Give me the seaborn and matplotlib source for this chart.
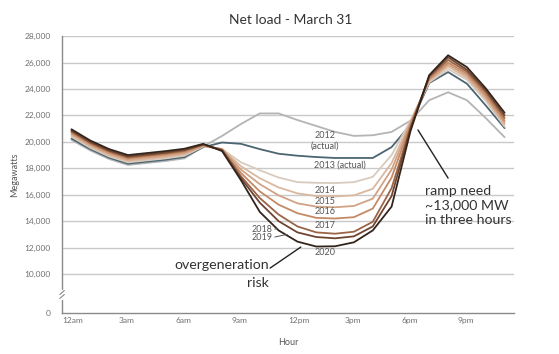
import matplotlib
matplotlib.use("Agg")
import matplotlib.pyplot as plt
import seaborn as sns
import pandas as pd
import numpy as np

# hour-of-day midpoints
hours = [0.5, 1.5, 2.5, 3.5, 4.5, 5.5, 6.5, 7.5, 8.5, 9.5, 10.5, 11.5,
         12.5, 13.5, 14.5, 15.5, 16.5, 17.5, 18.5, 19.5, 20.5, 21.5, 22.5, 23.5]

net_2012 = [20150, 19350, 18700, 18250, 18400, 18550, 18750, 19650, 20450, 21350, 22150, 22150,
            21650, 21200, 20750, 20450, 20500, 20750, 21600, 23150, 23750, 23150, 21800, 20350]
net_2013 = [20250, 19450, 18800, 18350, 18500, 18650, 18850, 19600, 19950, 19850, 19450, 19100,
            18950, 18850, 18780, 18780, 18780, 19600, 21300, 24450, 25280, 24400, 22750, 21040]
net_2014 = [20400, 19550, 18900, 18450, 18600, 18750, 18950, 19650, 19450, 18450, 17850, 17300,
            16950, 16900, 16880, 16950, 17350, 19000, 21600, 24500, 25500, 24700, 23100, 21150]
net_2015 = [20500, 19650, 19000, 18550, 18700, 18850, 19050, 19700, 19450, 18150, 17250, 16550,
            16100, 15900, 15870, 15950, 16450, 18400, 21500, 24600, 25700, 24850, 23250, 21300]
net_2016 = [20600, 19750, 19100, 18650, 18800, 18950, 19150, 19700, 19450, 17900, 16800, 15950,
            15350, 15100, 15050, 15150, 15700, 17900, 21400, 24700, 25850, 25000, 23400, 21450]
net_2017 = [20700, 19850, 19200, 18750, 18900, 19050, 19250, 19750, 19400, 17650, 16250, 15250,
            14600, 14250, 14200, 14300, 14950, 17300, 21300, 24800, 26000, 25150, 23550, 21600]
net_2018 = [20780, 19920, 19280, 18830, 18980, 19130, 19330, 19780, 19400, 17400, 15750, 14500,
            13600, 13150, 13050, 13200, 13950, 16500, 21100, 24900, 26200, 25300, 23750, 21800]
net_2019 = [20850, 20000, 19350, 18900, 19050, 19200, 19400, 19800, 19350, 17250, 15400, 14000,
            13150, 12800, 12700, 12850, 13600, 15900, 21000, 25000, 26400, 25450, 23900, 22000]
net_2020 = [20950, 20100, 19450, 19000, 19150, 19300, 19480, 19850, 19300, 17100, 14700, 13300,
            12450, 12080, 12100, 12400, 13300, 15100, 20800, 25050, 26550, 25650, 24050, 22200]

years = ["2012", "2013", "2014", "2015", "2016", "2017", "2018", "2019", "2020"]
series = [net_2012, net_2013, net_2014, net_2015, net_2016, net_2017, net_2018, net_2019, net_2020]

colors = {"2012": "#b4b4b4", "2013": "#4c6572", "2014": "#d8cbbd", "2015": "#d9b8a0",
          "2016": "#d2a284", "2017": "#c48a66", "2018": "#9c6446", "2019": "#6e4530",
          "2020": "#33241c"}

x_tick_hours = [0, 3, 6, 9, 12, 15, 18, 21]
x_tick_labels = ["12am", "3am", "6am", "9am", "12pm", "3pm", "6pm", "9pm"]
y_grid = [10000, 12000, 14000, 16000, 18000, 20000, 22000, 24000, 26000, 28000]

# the "0" sits below a broken axis; place it at this fake data level
Y_ZERO = 7050

rows = []
for yr, vals in zip(years, series):
    for h, v in zip(hours, vals):
        rows.append({"hour": h, "mw": v, "year": yr})
df = pd.DataFrame(rows)

sns.set_style("white")
plt.rcParams["font.family"] = ["Lato", "DejaVu Sans"]

fig = plt.figure(figsize=(5.59, 3.54), dpi=100)
ax = fig.add_axes([0.111, 0.1158, 0.8085, 0.7822])

for g in y_grid:
    ax.axhline(g, color="#c9c9c9", lw=1.0, zorder=0)

sns.lineplot(data=df, x="hour", y="mw", hue="year", hue_order=years,
             palette=colors, legend=False, lw=1.3, ax=ax)

ax.set_xlim(0, 24)
ax.set_ylim(Y_ZERO, 28000)
ax.set_xticks(x_tick_hours)
ax.set_xticklabels(x_tick_labels, ha="left")
ax.set_xticks(range(25), minor=True)
ax.set_yticks([Y_ZERO] + y_grid)
ax.set_yticklabels(["0"] + [f"{v:,}" for v in y_grid])
ax.tick_params(axis="x", which="both", direction="inout", length=3, color="#8a8a8a",
               labelsize=6, labelcolor="#707070", pad=1.5)
ax.tick_params(axis="y", length=0, labelsize=6, labelcolor="#707070", pad=8)

for side in ["top", "right"]:
    ax.spines[side].set_visible(False)
for side in ["left", "bottom"]:
    ax.spines[side].set_color("#8a8a8a")
    ax.spines[side].set_linewidth(1.0)

# axis break mark
ax.plot([0, 0], [8200, 8700], color="white", lw=2.5, clip_on=False, zorder=5)
ax.plot([-0.12, 0.12], [8150, 8450], color="#8a8a8a", lw=0.8, clip_on=False, zorder=6)
ax.plot([-0.12, 0.12], [8450, 8750], color="#8a8a8a", lw=0.8, clip_on=False, zorder=6)

ax.set_xlabel("Hour", fontsize=6.5, color="#555555", labelpad=10)
ax.set_ylabel("Megawatts", fontsize=6.5, color="#555555", labelpad=4)
fig.suptitle("Net load - March 31", x=0.52, y=0.96, fontsize=10, color="#333333")

lab = dict(fontsize=6.5, color="#555555", ha="center", va="center")
ax.text(13.95, 20500, "2012", **lab)
ax.text(13.95, 19700, "(actual)", **lab)
ax.text(14.75, 18250, "2013 (actual)", **lab)
ax.text(13.95, 16350, "2014", **lab)
ax.text(13.95, 15450, "2015", **lab)
ax.text(13.95, 14700, "2016", **lab)
ax.text(13.95, 13700, "2017", **lab)
ax.text(13.95, 11650, "2020", **lab)
ax.text(10.6, 13400, "2018", **lab)
ax.text(10.6, 12800, "2019", **lab)
ax.plot([11.3, 11.45], [13400, 13450], color="#555555", lw=0.7)
ax.plot([11.3, 11.95], [12800, 13000], color="#555555", lw=0.7)

big = dict(fontsize=10.2, color="#333333")
ax.text(11.0, 10650, "overgeneration", ha="right", va="center", **big)
ax.text(11.0, 9350, "risk", ha="right", va="center", **big)
ax.plot([11.05, 12.68], [10450, 12040], color="#222222", lw=1.0)

ax.text(19.25, 15200, "ramp need\n~13,000 MW\nin three hours", ha="left", va="center",
        linespacing=1.25, **big)
ax.plot([18.9, 20.5], [20900, 17260], color="#222222", lw=1.0)

fig.savefig("out.png", dpi=100)
